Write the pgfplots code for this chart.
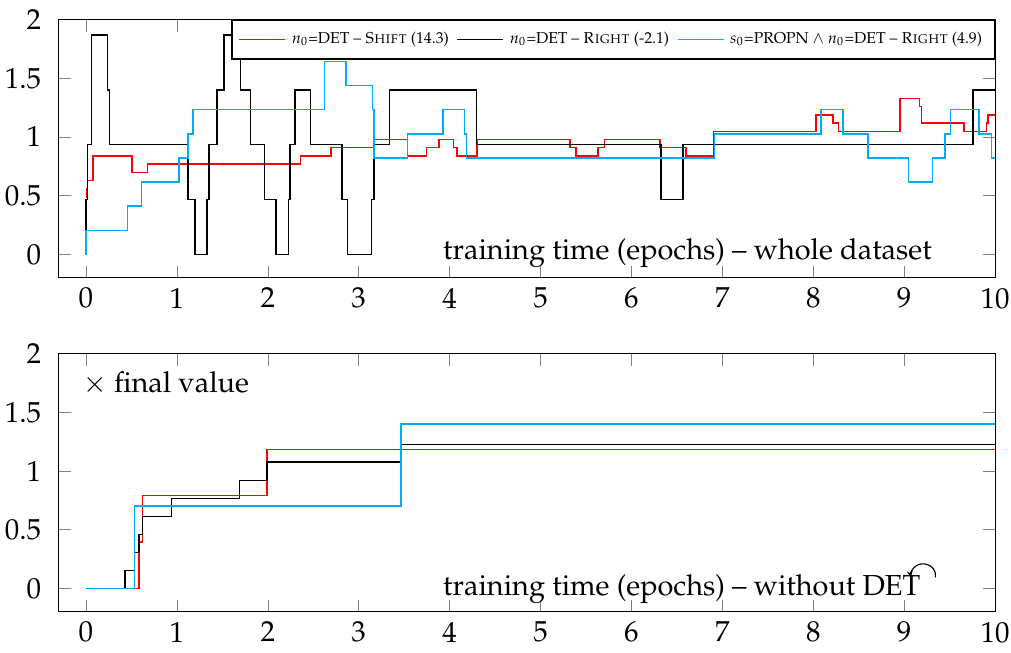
\documentclass[border=0pt]{standalone}
\usepackage[T1]{fontenc}
\usepackage{mathpazo}
\usepackage{pgfplots}
\pgfplotsset{compat=1.18}
\usetikzlibrary{arrows.meta}
\definecolor{myblue}{RGB}{0,174,239}
\pgfplotsset{
  myaxis/.style={
    width=323.8pt, height=89.3pt, scale only axis,
    xmin=-0.3, xmax=10, ymin=-0.2, ymax=2,
    xtick={0,1,...,10}, ytick={0,0.5,1,1.5,2},
    const plot,
    every axis plot/.append style={line width=0.5pt},
    x tick label style={inner xsep=0.5pt},
    y tick label style={inner xsep=1.7pt, xshift=-4.2pt},
  }
}
\begin{document}
\begin{tikzpicture}
\begin{axis}[myaxis,
  legend columns=-1,
  legend style={at={(1,1)}, anchor=north east,
    font=\fontsize{5.45}{6.5}\selectfont,
    inner xsep=2.3pt, inner ysep=1.2pt,
    nodes={inner xsep=2pt, inner ysep=2.8pt},
    /tikz/every even column/.append style={column sep=0.7pt}},
  legend image code/.code={\draw[#1] (0pt,0pt) -- (15.9pt,0pt);},
]
\addplot[red] coordinates {(0,0.489) (0.003,0.559) (0.015,0.629) (0.077,0.839) (0.504,0.699) (0.679,0.769) (2.358,0.839) (2.694,0.909) (3.169,0.979) (3.534,0.839) (3.746,0.909) (3.881,0.979) (4.045,0.909) (4.082,0.839) (4.30,0.979) (5.323,0.909) (5.389,0.839) (5.633,0.909) (5.706,0.979) (6.316,0.909) (6.601,0.839) (6.90,1.049) (8.032,1.189) (8.215,1.119) (8.28,1.049) (8.956,1.329) (9.167,1.259) (9.193,1.119) (9.66,1.049) (9.905,1.119) (9.923,1.189) (10,1.189)};
\addlegendentry{$n_0$=DET -- \textsc{Shift} (14.3)}
\addplot[black] coordinates {(0,0) (0.002,0.467) (0.018,0.935) (0.058,1.402) (0.062,1.87) (0.237,1.402) (0.256,0.935) (1.124,0.467) (1.201,0) (1.333,0.467) (1.354,0.935) (1.442,1.402) (1.519,1.87) (1.698,1.402) (1.811,0.935) (1.964,0.467) (2.092,0) (2.227,0.467) (2.245,0.935) (2.300,1.402) (2.468,0.935) (2.815,0.467) (2.877,0) (3.143,0.467) (3.169,0.935) (3.34,1.402) (4.294,0.935) (6.327,0.467) (6.565,0.935) (9.759,1.402) (10,1.402)};
\addlegendentry{$n_0$=DET -- \textsc{Right} (-2.1)}
\addplot[myblue] coordinates {(0,0) (0.002,0.205) (0.456,0.411) (0.613,0.616) (1.022,0.821) (1.124,1.027) (1.179,1.232) (2.621,1.643) (2.859,1.438) (3.151,1.232) (3.17,0.821) (3.534,1.027) (3.928,1.232) (4.166,1.027) (4.184,0.821) (6.911,1.027) (8.087,1.232) (8.328,1.027) (8.602,0.821) (9.047,0.616) (9.313,0.821) (9.449,1.027) (9.511,1.232) (9.821,1.027) (9.96,0.821) (10,0.821)};
\addlegendentry{$s_0$=PROPN $\wedge$ $n_0$=DET -- \textsc{Right} (4.9)}
\node[anchor=base west, inner sep=0pt] at (rel axis cs:0.410,0.07) {training time (epochs) -- whole dataset};
\end{axis}
\begin{axis}[myaxis, at={(0,-115.5pt)}]
\addplot[red] coordinates {(0,0) (0.584,0.395) (0.621,0.79) (1.993,1.185) (10,1.185)};
\addplot[black] coordinates {(0,0) (0.431,0.154) (0.533,0.307) (0.584,0.461) (0.621,0.614) (0.942,0.768) (1.69,0.921) (1.993,1.075) (3.465,1.228) (10,1.228)};
\addplot[myblue] coordinates {(0,0) (0.533,0.70) (3.465,1.40) (10,1.40)};
\node[anchor=base west, inner sep=0pt] at (rel axis cs:0.025,0.851) {$\times$ final value};
\node[anchor=base west, inner sep=0pt] (wd) at (rel axis cs:0.410,0.063) {training time (epochs) -- without DET};
\draw[-{Stealth[length=2.2pt,width=2pt]}] ([xshift=5pt,yshift=6.3pt]wd.base east) arc[start angle=-10, end angle=190, x radius=4.3pt, y radius=4pt];
\end{axis}
\end{tikzpicture}
\end{document}
